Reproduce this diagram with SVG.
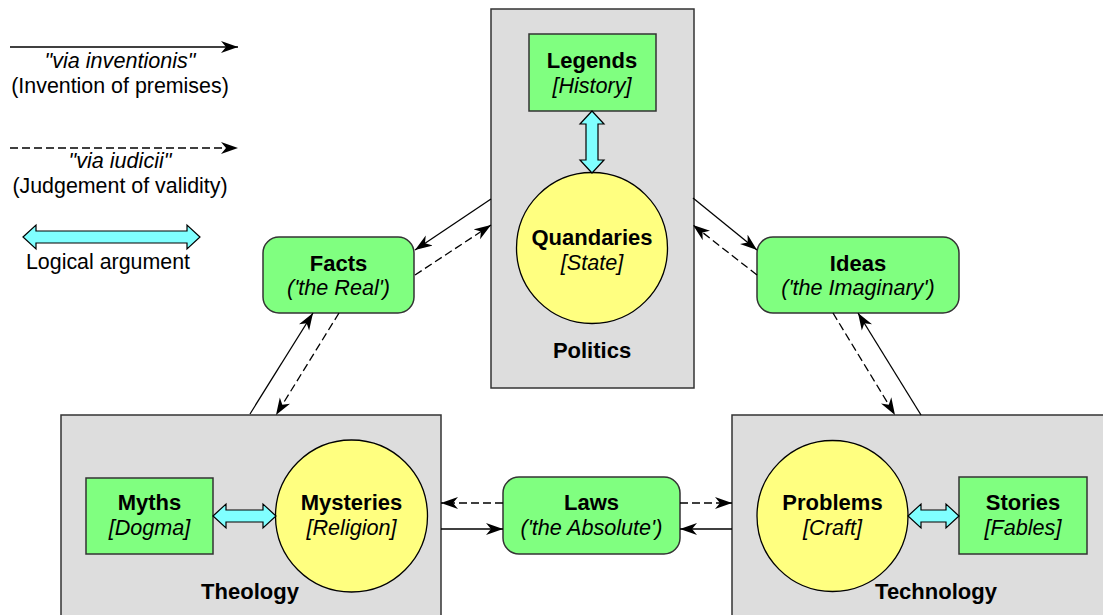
<svg xmlns="http://www.w3.org/2000/svg" width="1103" height="615" viewBox="0 0 1103 615">
  <style>
    .area { fill: #dddddd; stroke: #333333; stroke-width: 1.5; }
    .box { fill: #80ff80; stroke: #333333; stroke-width: 1.5; }
    .core { fill: #ffff80; stroke: #000000; stroke-width: 1.3; }
    .arg { fill: #80ffff; stroke: #000000; stroke-width: 1.2; stroke-linejoin: miter; }
    .inv { fill: none; stroke: #000000; stroke-width: 1.3; marker-end: url(#head); }
    .jud { fill: none; stroke: #000000; stroke-width: 1.3; stroke-dasharray: 8 4; marker-end: url(#head); }
    text { font-family: "Liberation Sans", Arial, Helvetica, sans-serif; font-size: 21.4px; fill: #000000; text-anchor: middle; }
    .b { font-weight: bold; font-size: 22px; }
    .i { font-style: italic; font-size: 21.6px; }
  </style>
  <defs>
    <marker id="head" markerUnits="userSpaceOnUse" viewBox="0 0 17 13" markerWidth="17" markerHeight="13" refX="17" refY="6.5" orient="auto">
      <path d="M0,0.5 L17,6.5 L0,12.5 L5,6.5 Z" fill="#000000"/>
    </marker>
  </defs>

  <!-- legend -->
  <g id="legend">
    <line class="inv" x1="10" y1="47" x2="238" y2="47"/>
    <text class="i" x="120" y="68">"via inventionis"</text>
    <text x="120" y="93">(Invention of premises)</text>
    <line class="jud" x1="10" y1="148" x2="238" y2="148"/>
    <text class="i" x="120" y="168">"via iudicii"</text>
    <text x="120" y="193">(Judgement of validity)</text>
    <polygon class="arg" points="23,237 36,225 36,231 187,231 187,225 200,237 187,249 187,243 36,243 36,249"/>
    <text x="108" y="269">Logical argument</text>
  </g>

  <!-- domains -->
  <g id="politics">
    <rect class="area" x="491" y="9" width="203" height="379"/>
    <text class="b" x="592" y="358">Politics</text>
  </g>
  <g id="theology">
    <rect class="area" x="61" y="415" width="380" height="210"/>
    <text class="b" x="250" y="599">Theology</text>
  </g>
  <g id="technology">
    <rect class="area" x="732" y="415" width="380" height="210"/>
    <text class="b" x="936" y="599">Technology</text>
  </g>

  <!-- inner nodes -->
  <g id="legends">
    <rect class="box" x="529" y="34" width="127" height="77"/>
    <text class="b" x="592" y="68">Legends</text>
    <text class="i" x="592" y="93">[History]</text>
  </g>
  <g id="quandaries">
    <circle class="core" cx="592" cy="248" r="75.5"/>
    <text class="b" x="592" y="245">Quandaries</text>
    <text class="i" x="592" y="270">[State]</text>
  </g>
  <g id="myths">
    <rect class="box" x="86" y="478" width="127" height="76"/>
    <text class="b" x="149.5" y="510">Myths</text>
    <text class="i" x="149.5" y="535">[Dogma]</text>
  </g>
  <g id="mysteries">
    <circle class="core" cx="351.5" cy="516" r="76"/>
    <text class="b" x="351.5" y="510">Mysteries</text>
    <text class="i" x="351.5" y="535">[Religion]</text>
  </g>
  <g id="problems">
    <circle class="core" cx="832.5" cy="516" r="75.5"/>
    <text class="b" x="832.5" y="510">Problems</text>
    <text class="i" x="832.5" y="535">[Craft]</text>
  </g>
  <g id="stories">
    <rect class="box" x="959" y="477" width="128" height="77"/>
    <text class="b" x="1023" y="510">Stories</text>
    <text class="i" x="1023" y="535">[Fables]</text>
  </g>

  <!-- mediating nodes -->
  <g id="facts">
    <rect class="box" x="263" y="237" width="151" height="76" rx="16"/>
    <text class="b" x="338.5" y="271">Facts</text>
    <text class="i" x="338.5" y="295">('the Real')</text>
  </g>
  <g id="ideas">
    <rect class="box" x="757" y="237" width="202" height="76" rx="16"/>
    <text class="b" x="858" y="271">Ideas</text>
    <text class="i" x="858" y="295">('the Imaginary')</text>
  </g>
  <g id="laws">
    <rect class="box" x="503" y="477" width="177" height="77" rx="16"/>
    <text class="b" x="591.5" y="510">Laws</text>
    <text class="i" x="591.5" y="535">('the Absolute')</text>
  </g>

  <!-- connectors -->
  <g id="connectors">
    <polygon class="arg" points="592,111 604,124 598,124 598,160 604,160 592,173 580,160 586,160 586,124 580,124"/>
    <polygon class="arg" points="213,516 226,504 226,510 263,510 263,504 276,516 263,528 263,522 226,522 226,528"/>
    <polygon class="arg" points="908,516 921,504 921,510 946,510 946,504 959,516 946,528 946,522 921,522 921,528"/>

    <line class="inv" x1="491" y1="199" x2="415" y2="250"/>
    <line class="jud" x1="415" y1="275" x2="491" y2="225"/>
    <line class="inv" x1="250" y1="414" x2="313" y2="313"/>
    <line class="jud" x1="339" y1="313" x2="276" y2="415"/>

    <line class="inv" x1="693" y1="198" x2="757" y2="250"/>
    <line class="jud" x1="757" y1="275" x2="693" y2="225"/>
    <line class="jud" x1="833" y1="313" x2="895" y2="415"/>
    <line class="inv" x1="921" y1="415" x2="858" y2="313"/>

    <line class="jud" x1="503" y1="503" x2="441" y2="503"/>
    <line class="inv" x1="441" y1="529" x2="503" y2="529"/>
    <line class="jud" x1="680" y1="503" x2="732" y2="503"/>
    <line class="inv" x1="732" y1="529" x2="680" y2="529"/>
  </g>
</svg>
